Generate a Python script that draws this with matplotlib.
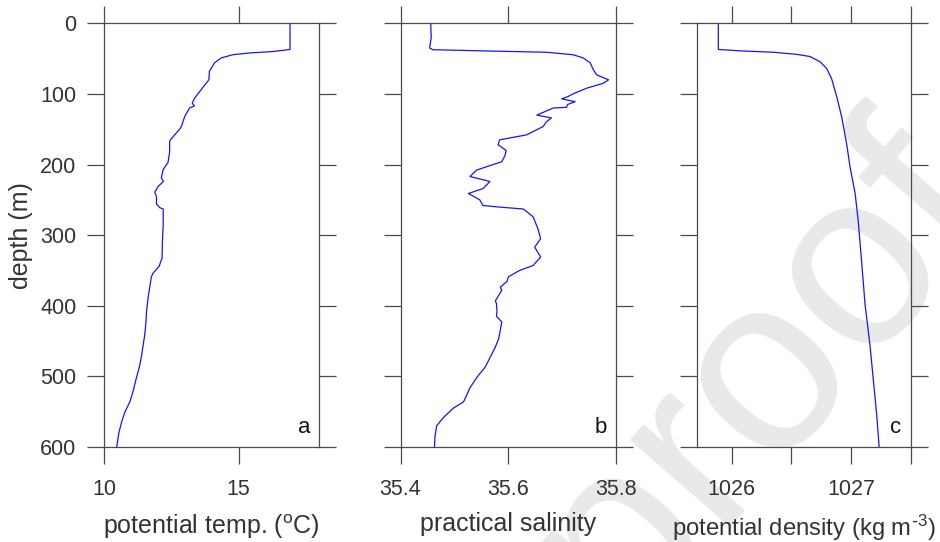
import numpy as np
import matplotlib
matplotlib.use('Agg')
import matplotlib.pyplot as plt

plt.rcParams['font.family'] = ['Liberation Sans', 'DejaVu Sans']
plt.rcParams['mathtext.default'] = 'regular'

# potential temperature profile (panel a)
temp_depth = [0, 37, 38.5, 40, 42, 44.5, 49, 56, 68, 80, 94, 106, 113, 117, 120,
              132, 146, 150, 163, 167, 182, 197, 207, 219, 224, 231, 239, 246,
              256, 261, 263, 285, 310, 332, 344, 354, 359, 374, 388, 408, 423,
              442, 472, 487, 501, 521, 536, 550, 565, 580, 600]
temp = [16.91, 16.91, 16.6, 16.26, 15.4, 14.78, 14.35, 14.1, 13.91, 13.89, 13.6,
        13.36, 13.27, 13.35, 13.17, 12.99, 12.87, 12.8, 12.5, 12.43, 12.43, 12.37,
        12.19, 12.12, 12.2, 12.0, 11.88, 11.94, 11.94, 12.06, 12.19, 12.19, 12.16,
        12.15, 12.04, 11.81, 11.75, 11.69, 11.63, 11.57, 11.55, 11.5, 11.38, 11.3,
        11.2, 11.07, 10.95, 10.77, 10.64, 10.54, 10.46]

# practical salinity profile (panel b)
sal_depth = [0, 20, 35, 37.4, 39, 41, 44.5, 49, 56, 66, 73, 80, 85, 92, 100, 104,
             107, 111, 115, 119, 120, 130, 134, 140, 146, 158, 165, 172, 180, 187,
             196, 203, 208, 217, 224, 234, 241, 250, 258, 260, 263, 274, 291, 305,
             317, 331, 343, 350, 359, 365, 374, 378, 393, 397, 408, 415, 423, 435,
             447, 460, 472, 487, 501, 516, 536, 545, 558, 570, 585, 600]
sal = [35.456, 35.457, 35.454, 35.46, 35.55, 35.671, 35.72, 35.739, 35.752, 35.758,
       35.764, 35.786, 35.776, 35.745, 35.72, 35.71, 35.699, 35.724, 35.71, 35.708,
       35.683, 35.653, 35.68, 35.67, 35.665, 35.634, 35.584, 35.581, 35.596, 35.594,
       35.588, 35.56, 35.541, 35.529, 35.566, 35.553, 35.526, 35.547, 35.553, 35.58,
       35.628, 35.646, 35.655, 35.66, 35.649, 35.66, 35.646, 35.621, 35.6, 35.598,
       35.585, 35.588, 35.576, 35.578, 35.579, 35.578, 35.588, 35.585, 35.582,
       35.575, 35.567, 35.557, 35.542, 35.529, 35.517, 35.498, 35.48, 35.467,
       35.464, 35.463]

# potential density profile (panel c)
dens_depth = [0, 37, 39, 41, 44, 47, 54.5, 64, 79, 104, 133, 172, 202, 241, 280,
              339, 398, 457, 506, 555, 600]
dens = [1025.888, 1025.888, 1026.07, 1026.35, 1026.545, 1026.656, 1026.74,
        1026.796, 1026.838, 1026.88, 1026.922, 1026.964, 1026.99, 1027.034,
        1027.06, 1027.089, 1027.117, 1027.159, 1027.187, 1027.215, 1027.235]

depth_ticks = [0, 100, 200, 300, 400, 500, 600]

spine_col = '#4a4a4a'
text_col = '#333333'
tick_fs = 15.5
lab_fs = 18

fig = plt.figure(figsize=(9.4, 5.42), dpi=100)

# faint watermark behind the panels
fig.text(0.81, 0.31, 'proof', rotation=49, rotation_mode='anchor',
         ha='center', va='center', fontsize=180, color='#e9e9e9', zorder=-1)

panels = [
    dict(rect=[0.1110, 0.1753, 0.2287, 0.7817], x=temp, y=temp_depth,
         xlim=(10, 18), xt=[10, 15], xtl=['10', '15'],
         xlabel='potential temp. ($^{o}$C)', tag='a', lfs=lab_fs),
    dict(rect=[0.4261, 0.1753, 0.2293, 0.7817], x=sal, y=sal_depth,
         xlim=(35.4, 35.8), xt=[35.4, 35.6, 35.8], xtl=['35.4', '35.6', '35.8'],
         xlabel='practical salinity', tag='b', lfs=lab_fs),
    dict(rect=[0.7412, 0.1753, 0.2277, 0.7817], x=dens, y=dens_depth,
         xlim=(1025.707, 1027.5), xt=[1026, 1026.5, 1027, 1027.5],
         xtl=['1026', '', '1027', ''],
         xlabel=r'potential density (kg m$^{\text{-}3}$)', tag='c', lfs=17.2),
]

for i, p in enumerate(panels):
    ax = fig.add_axes(p['rect'])
    ax.patch.set_alpha(0)
    ax.plot(p['x'], p['y'], color='#1414ff', lw=0.9)
    ax.set_xlim(*p['xlim'])
    ax.set_ylim(600, 0)
    ax.set_xticks(p['xt'])
    ax.set_xticklabels(p['xtl'])
    ax.set_yticks(depth_ticks)
    ax.tick_params(direction='out', length=12, width=0.9, color=spine_col,
                   labelcolor=text_col, labelsize=tick_fs, top=True, right=True,
                   labeltop=False, labelright=False)
    ax.tick_params(axis='x', pad=11)
    ax.tick_params(axis='y', pad=8)
    for s in ax.spines.values():
        s.set_color(spine_col)
        s.set_linewidth(0.9)
    ax.set_xlabel(p['xlabel'], fontsize=p['lfs'], color=text_col, labelpad=9)
    if i == 0:
        ax.set_ylabel('depth (m)', fontsize=lab_fs, color=text_col, labelpad=5)
    else:
        ax.set_yticklabels([])
    ax.text(0.93, 0.045, p['tag'], transform=ax.transAxes, ha='center',
            va='center', fontsize=16, color='#111111')

fig.savefig('out.png', dpi=100)
